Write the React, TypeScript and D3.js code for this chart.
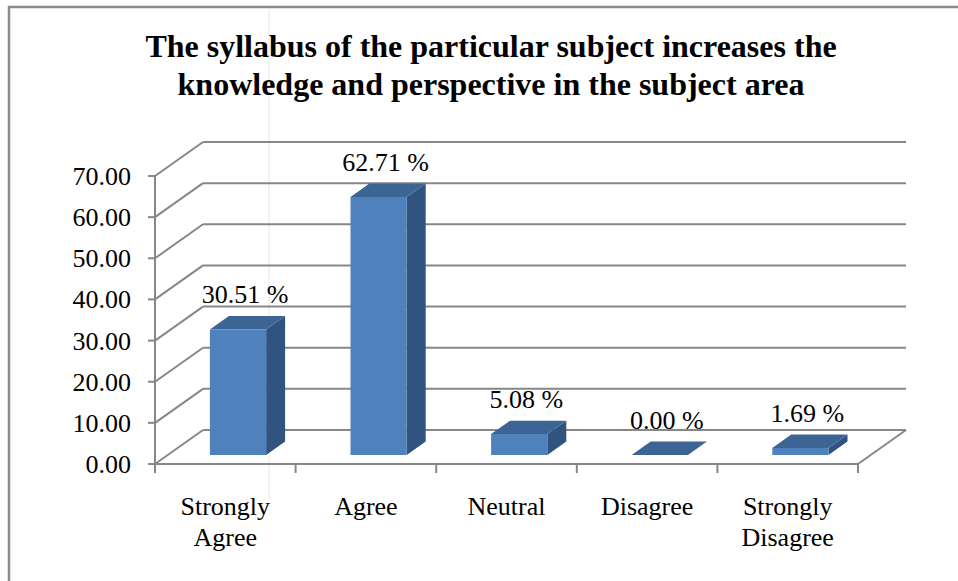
import React from "react";
import * as d3 from "d3";

const titleLines = [
  "The syllabus of the particular subject increases the",
  "knowledge and perspective in the subject area",
];
const categories = ["Strongly Agree", "Agree", "Neutral", "Disagree", "Strongly Disagree"];
const values = [30.51, 62.71, 5.08, 0.0, 1.69];
const yTicks = [0, 10, 20, 30, 40, 50, 60, 70];

const W = 958;
const H = 581;
const FONT = "'Liberation Serif', 'Times New Roman', Times, serif";

export default function App() {
  const x0 = 155;
  const x1 = 858;
  const depthX = 48;
  const depthY = 34;
  const y = d3.scaleLinear().domain([0, 70]).range([464, 176]);
  const band = d3.scaleBand<string>().domain(categories).range([x0, x1]).paddingInner(0).paddingOuter(0);
  const bw = band.bandwidth();
  const barW = bw * 0.4;
  const zFront = 0.265;
  const zBack = 0.66;
  const P = (px: number, py: number, z: number): [number, number] => [px + z * depthX, py - z * depthY];
  const poly = (pts: [number, number][]) => pts.map((p) => p.join(",")).join(" ");
  const fmt = d3.format(".2f");
  const grid = "#878787";
  const front = "#4F81BD";
  const top = "#3C6494";
  const side = "#31537F";

  return (
    <svg width={W} height={H} style={{ position: "absolute", left: 0, top: 0 }} fontFamily={FONT}>
      <rect x={0} y={0} width={W} height={H} fill="#fff" />
      {/* outer border */}
      <path d={`M9,${H} V7 H${W}`} fill="none" stroke="#8c8c8c" strokeWidth={2.5} />
      {/* faint artifact line */}
      <line x1={269} y1={10} x2={269} y2={500} stroke="#e6e6e6" strokeWidth={1} />

      {/* title */}
      {titleLines.map((t, i) => (
        <text key={i} x={491} y={57 + i * 38} textAnchor="middle" fontSize={32} fontWeight="bold" fill="#000">
          {t}
        </text>
      ))}

      {/* side wall diagonals and back wall gridlines */}
      {yTicks.map((v) => {
        const [bx, by] = P(x0, y(v), 1);
        return (
          <g key={v}>
            <line x1={x0} y1={y(v)} x2={bx} y2={by} stroke={grid} strokeWidth={2} />
            <line x1={bx} y1={by} x2={x1 + depthX} y2={by} stroke={grid} strokeWidth={2} />
          </g>
        );
      })}
      {/* floor edges */}
      <line x1={x0} y1={y(0)} x2={x1} y2={y(0)} stroke={grid} strokeWidth={2} />
      <line x1={x1} y1={y(0)} x2={x1 + depthX} y2={y(0) - depthY} stroke={grid} strokeWidth={2} />
      {/* value axis */}
      <line x1={x0} y1={y(70)} x2={x0} y2={y(0) + 9} stroke={grid} strokeWidth={2} />
      {yTicks.map((v) => (
        <g key={"t" + v}>
          <line x1={x0 - 7} y1={y(v)} x2={x0} y2={y(v)} stroke={grid} strokeWidth={2} />
          <text x={131} y={y(v) + 9} textAnchor="end" fontSize={26} fill="#000">
            {fmt(v)}
          </text>
        </g>
      ))}
      {/* category ticks */}
      {d3.range(categories.length + 1).map((i) => {
        const tx = x0 + i * bw;
        return <line key={"c" + i} x1={tx} y1={y(0)} x2={tx} y2={y(0) + 9} stroke={grid} strokeWidth={2} />;
      })}

      {/* bars */}
      {categories.map((c, i) => {
        const cx = (band(c) as number) + bw / 2;
        const xl = cx - barW / 2;
        const xr = cx + barW / 2;
        const yv = y(values[i]);
        const yb = y(0);
        const frontPts: [number, number][] = [P(xl, yv, zFront), P(xr, yv, zFront), P(xr, yb, zFront), P(xl, yb, zFront)];
        const topPts: [number, number][] = [P(xl, yv, zFront), P(xr, yv, zFront), P(xr, yv, zBack), P(xl, yv, zBack)];
        const sidePts: [number, number][] = [P(xr, yv, zFront), P(xr, yb, zFront), P(xr, yb, zBack), P(xr, yv, zBack)];
        const [lx] = P(cx, yv, zFront);
        const [, ly] = P(cx, yv, zBack);
        return (
          <g key={c}>
            <polygon points={poly(sidePts)} fill={side} />
            <polygon points={poly(topPts)} fill={top} />
            {values[i] > 0 && <polygon points={poly(frontPts)} fill={front} />}
            <text x={lx + 7} y={ly - 13} textAnchor="middle" fontSize={26} fill="#000">
              {fmt(values[i]) + " %"}
            </text>
          </g>
        );
      })}

      {/* category labels */}
      {categories.map((c) => {
        const cx = (band(c) as number) + bw / 2;
        const lines = c.split(" ");
        return (
          <text key={"l" + c} textAnchor="middle" fontSize={26} fill="#000">
            {lines.map((ln, j) => (
              <tspan key={j} x={cx} y={515 + j * 31}>
                {ln}
              </tspan>
            ))}
          </text>
        );
      })}
    </svg>
  );
}
